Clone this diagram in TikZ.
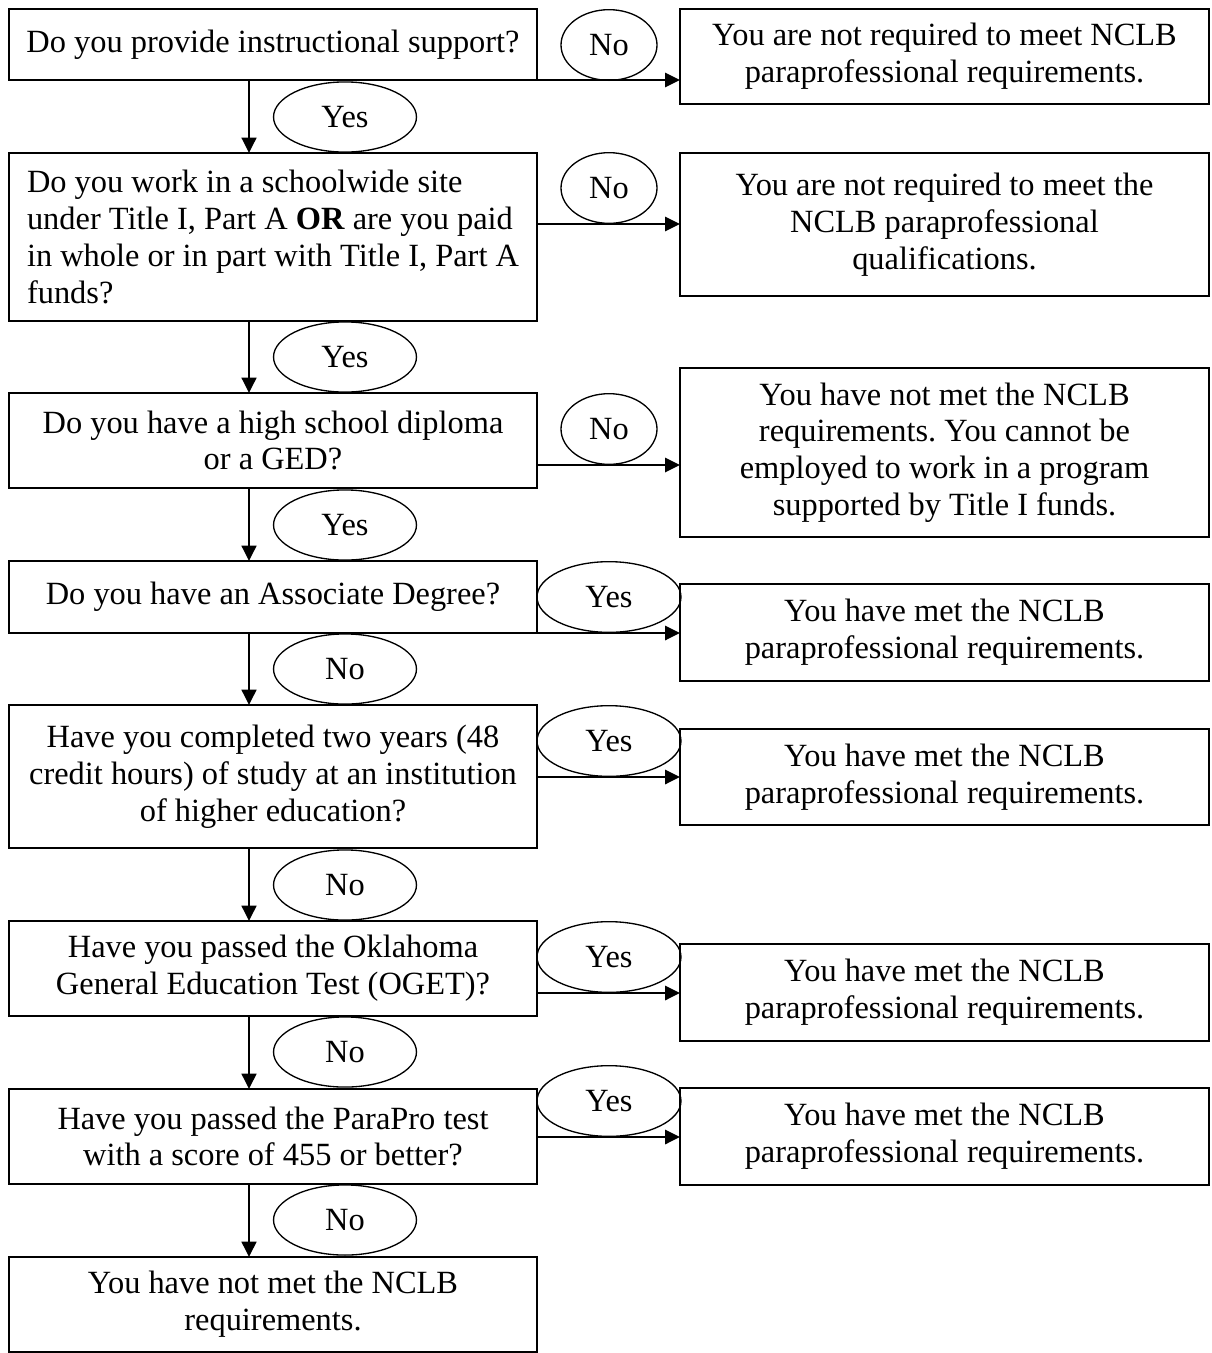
\documentclass[tikz,border=0pt]{standalone}
\usepackage{fontspec}
\setmainfont{Liberation Serif}
\usetikzlibrary{arrows.meta,shapes.geometric}
\frenchspacing
\begin{document}
\begin{tikzpicture}[x=0.375pt,y=-0.375pt,
  every node/.style={font=\fontsize{12.15}{13.8}\selectfont},
  qbox/.style={draw,line width=0.6pt,rectangle,outer sep=0pt,inner sep=0pt,minimum width=198pt},
  rbox/.style={draw,line width=0.6pt,rectangle,outer sep=0pt,inner sep=0pt,minimum width=198.4pt,align=center},
  sideno/.style={draw,line width=0.5pt,ellipse,inner sep=0pt,minimum width=36pt,minimum height=26.5pt},
  sideyes/.style={draw,line width=0.5pt,ellipse,inner sep=0pt,minimum width=54pt,minimum height=26.5pt},
  downlab/.style={draw,line width=0.5pt,ellipse,inner sep=0pt,minimum width=53.6pt,minimum height=26.3pt},
  harrow/.style={line width=0.75pt,-{Triangle[length=5.6pt,width=5.4pt]}},
  varrow/.style={line width=0.75pt,-{Triangle[length=5.8pt,width=5.6pt]}}]
\useasboundingbox (0,0) rectangle (1211,1353);
\fill[white] (0,0) rectangle (1211,1353);

% left column
\node[qbox,align=left,minimum height=26.625pt] (B1) at (273,44.5) {Do you provide instructional support?};
\node[qbox,align=left,minimum height=63pt] (B2) at (273,237) {Do you work in a schoolwide site\\under Title I, Part A \textbf{OR} are you paid\\in whole or in part with Title I, Part A\\funds?};
\node[qbox,align=center,minimum height=35.625pt] (B3) at (273,440.5) {Do you have a high school diploma\\or a GED?};
\node[qbox,align=center,minimum height=27pt] (B4) at (273,597) {Do you have an Associate Degree?};
\node[qbox,align=center,minimum height=53.625pt] (B5) at (273,776.5) {Have you completed two years (48\\credit hours) of study at an institution\\of higher education?};
\node[qbox,align=center,minimum height=35.625pt] (B6) at (273,968.5) {Have you passed the Oklahoma\\General Education Test (OGET)?};
\node[qbox,align=center,minimum height=35.625pt] (B7) at (273,1136.5) {Have you passed the ParaPro test\\with a score of 455 or better?};
\node[qbox,align=center,minimum height=35.625pt] (B8) at (273,1304.5) {You have not met the NCLB\\requirements.};

% right column
\node[rbox,minimum height=35.625pt] (R1) at (944.5,56.5) {You are not required to meet NCLB\\paraprofessional requirements.};
\node[rbox,minimum height=53.625pt] (R2) at (944.5,224.5) {You are not required to meet the\\NCLB paraprofessional\\qualifications.};
\node[rbox,minimum height=63.375pt] (R3) at (944.5,452.5) {You have not met the NCLB\\requirements. You cannot be\\employed to work in a program\\supported by Title I funds.};
\node[rbox,minimum height=36.375pt] (R4) at (944.5,632.5) {You have met the NCLB\\paraprofessional requirements.};
\node[rbox,minimum height=36pt] (R5) at (944.5,777) {You have met the NCLB\\paraprofessional requirements.};
\node[rbox,minimum height=36.375pt] (R6) at (944.5,992.5) {You have met the NCLB\\paraprofessional requirements.};
\node[rbox,minimum height=36.375pt] (R7) at (944.5,1136.5) {You have met the NCLB\\paraprofessional requirements.};

% side labels
\node[sideno] (S1) at (609,45) {No};
\node[sideno] (S2) at (609,188) {No};
\node[sideno] (S3) at (609,429) {No};
\node[sideyes] (S4) at (609,597) {Yes};
\node[sideyes] (S5) at (609,741) {Yes};
\node[sideyes] (S6) at (609,957) {Yes};
\node[sideyes] (S7) at (609,1101) {Yes};

% down labels
\node[downlab] (D1) at (345,117) {Yes};
\node[downlab] (D2) at (345,357) {Yes};
\node[downlab] (D3) at (345,525) {Yes};
\node[downlab] (D4) at (345,669) {No};
\node[downlab] (D5) at (345,885) {No};
\node[downlab] (D6) at (345,1052) {No};
\node[downlab] (D7) at (345,1220) {No};

% vertical arrows
\coordinate (vx) at (249,0);
\draw[varrow] (B1.south -| vx) -- (B2.north -| vx);
\draw[varrow] (B2.south -| vx) -- (B3.north -| vx);
\draw[varrow] (B3.south -| vx) -- (B4.north -| vx);
\draw[varrow] (B4.south -| vx) -- (B5.north -| vx);
\draw[varrow] (B5.south -| vx) -- (B6.north -| vx);
\draw[varrow] (B6.south -| vx) -- (B7.north -| vx);
\draw[varrow] (B7.south -| vx) -- (B8.north -| vx);

% horizontal arrows
\coordinate (h1) at (0,80);
\coordinate (h2) at (0,224);
\coordinate (h3) at (0,465);
\coordinate (h4) at (0,633);
\coordinate (h5) at (0,777);
\coordinate (h6) at (0,993);
\coordinate (h7) at (0,1137);
\draw[harrow] (B1.east |- h1) -- (R1.west |- h1);
\draw[harrow] (B2.east |- h2) -- (R2.west |- h2);
\draw[harrow] (B3.east |- h3) -- (R3.west |- h3);
\draw[harrow] (B4.east |- h4) -- (R4.west |- h4);
\draw[harrow] (B5.east |- h5) -- (R5.west |- h5);
\draw[harrow] (B6.east |- h6) -- (R6.west |- h6);
\draw[harrow] (B7.east |- h7) -- (R7.west |- h7);
\end{tikzpicture}
\end{document}
